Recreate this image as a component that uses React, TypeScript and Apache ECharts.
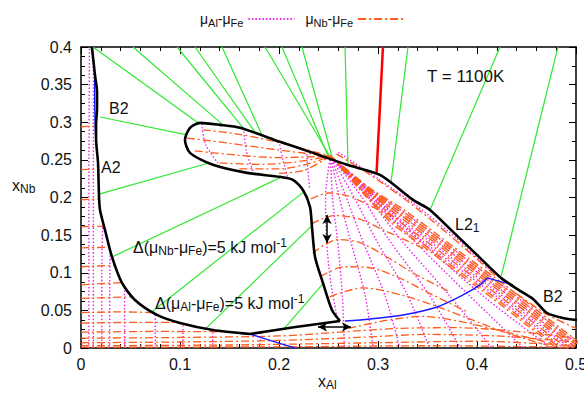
import React, { useEffect, useRef } from 'react';
import * as echarts from 'echarts';

type Pt = [number, number];

const FONT = '"Liberation Sans", Arial, Helvetica, sans-serif';

const AL = 'μAl-μFe';
const NB = 'μNb-μFe';

const xRange: Pt = [0, 0.5];
const yRange: Pt = [0, 0.4];
const xStep = 0.1;
const yStep = 0.05;

// ---- phase boundaries (black) ----
const boundaryA2: Pt[] = [
  [0.011, 0.4], [0.0141, 0.363], [0.0162, 0.34], [0.0162, 0.318], [0.0152, 0.297], [0.0152, 0.278],
  [0.0172, 0.246], [0.0182, 0.201], [0.0192, 0.1835], [0.0242, 0.157], [0.0313, 0.121], [0.0414, 0.0864],
  [0.0545, 0.0638], [0.0768, 0.0439], [0.1, 0.0332], [0.1333, 0.0239], [0.1707, 0.0186],
];
const boundaryBottom: Pt[] = [[0.1707, 0.0186], [0.215, 0.0275], [0.2616, 0.0359]];
const boundaryL21: Pt[] = [
  [0.2616, 0.0359], [0.2535, 0.0505], [0.2444, 0.0864], [0.2364, 0.121], [0.2333, 0.161], [0.2313, 0.1875],
  [0.2242, 0.21], [0.2141, 0.2234], [0.201, 0.2274], [0.1677, 0.2327], [0.1333, 0.2434], [0.1101, 0.2593],
  [0.105, 0.2766], [0.1101, 0.2926], [0.1202, 0.2992], [0.1404, 0.2965], [0.1606, 0.2926], [0.201, 0.274],
  [0.2343, 0.2593], [0.2687, 0.2434], [0.302, 0.23], [0.3354, 0.1968], [0.3525, 0.1835], [0.3758, 0.1543],
  [0.4, 0.1237], [0.4232, 0.0944], [0.4404, 0.0785], [0.4566, 0.0652], [0.4707, 0.0465], [0.4869, 0.0399],
  [0.501, 0.0372],
];

// ---- ordering boundaries (blue) ----
const blueLines: Pt[][] = [
  [[0.0138, 0.357], [0.0139, 0.32], [0.0146, 0.284]],
  [[0.1707, 0.0186], [0.195, 0.0085], [0.216, 0.0]],
  [[0.2667, 0.0359], [0.2919, 0.0386], [0.3253, 0.0439], [0.3596, 0.0545], [0.3859, 0.0705], [0.403, 0.0838], [0.4101, 0.0931]],
  [[0.4101, 0.0931], [0.4364, 0.0838]],
];

// ---- tie lines ----
const redTie: Pt[] = [[0.305, 0.4], [0.2985, 0.231]];
const greenTies: Pt[][] = [
  [[0.0121, 0.4], [0.1182, 0.2992]],
  [[0.0525, 0.4], [0.1434, 0.2965]],
  [[0.097, 0.4], [0.165, 0.2905]],
  [[0.1152, 0.4], [0.176, 0.2862]],
  [[0.1424, 0.4], [0.183, 0.2826]],
  [[0.1859, 0.4], [0.2515, 0.2545]],
  [[0.203, 0.4], [0.2495, 0.2555]],
  [[0.2232, 0.4], [0.2535, 0.2545]],
  [[0.2667, 0.4], [0.2697, 0.243]],
  [[0.3303, 0.4], [0.3131, 0.2195]],
  [[0.4232, 0.4], [0.3525, 0.1835]],
  [[0.4818, 0.4], [0.4245, 0.096]],
  [[0.0192, 0.307], [0.1071, 0.2832]],
  [[0.0192, 0.2048], [0.1283, 0.2455]],
  [[0.0313, 0.121], [0.203, 0.2275]],
  [[0.072, 0.0485], [0.226, 0.2085]],
  [[0.125, 0.0245], [0.2335, 0.163]],
  [[0.205, 0.0255], [0.2447, 0.086]],
];

// ---- μAl-μFe isolines (magenta dotted) ----
const alStrip: Pt[][] = [
  [[0.008, 0], [0.008, 0.2], [0.0085, 0.4]],
  [[0.0125, 0], [0.0125, 0.25], [0.0125, 0.38]],
  [[0.021, 0], [0.021, 0.1], [0.022, 0.165]],
  [[0.029, 0], [0.029, 0.08], [0.0295, 0.127]],
  [[0.044, 0], [0.044, 0.05], [0.044, 0.078]],
  [[0.075, 0], [0.075, 0.046]],
  [[0.103, 0], [0.103, 0.032]],
  [[0.133, 0], [0.133, 0.024]],
  [[0.18, 0], [0.182, 0.02]],
];
const alTongue: Pt[][] = [
  [[0.122, 0.298], [0.126, 0.27], [0.14, 0.243]],
  [[0.164, 0.292], [0.167, 0.262], [0.174, 0.234]],
  [[0.2, 0.275], [0.204, 0.25], [0.209, 0.226]],
  [[0.228, 0.262], [0.229, 0.24], [0.231, 0.212]],
];
const alFan: Pt[][] = [
  [[0.252, 0.255], [0.247, 0.2], [0.248, 0.144], [0.252, 0.09], [0.258, 0.045]],
  [[0.252, 0.255], [0.254, 0.2], [0.259, 0.144], [0.264, 0.07], [0.266, 0.0]],
  [[0.252, 0.255], [0.261, 0.2], [0.272, 0.144], [0.287, 0.07], [0.295, 0.0]],
  [[0.252, 0.255], [0.268, 0.2], [0.284, 0.144], [0.307, 0.07], [0.322, 0.0]],
  [[0.252, 0.255], [0.276, 0.2], [0.298, 0.144], [0.33, 0.07], [0.352, 0.0]],
  [[0.252, 0.255], [0.284, 0.2], [0.311, 0.144], [0.352, 0.07], [0.383, 0.0]],
  [[0.252, 0.255], [0.29, 0.2], [0.323, 0.144], [0.372, 0.07], [0.415, 0.0]],
  [[0.252, 0.255], [0.295, 0.2], [0.335, 0.144], [0.392, 0.07], [0.447, 0.0]],
  [[0.252, 0.255], [0.298, 0.2], [0.345, 0.14], [0.41, 0.065], [0.475, 0.0]],
];
const alBand: Pt[][] = [
  [[0.252, 0.255], [0.2889, 0.2037], [0.3158, 0.1705], [0.3498, 0.1375], [0.3838, 0.1035], [0.4188, 0.0695], [0.4538, 0.0335], [0.4938, -0.0065]],
  [[0.252, 0.255], [0.2902, 0.2058], [0.3183, 0.1747], [0.3523, 0.1417], [0.3863, 0.1077], [0.4213, 0.0737], [0.4563, 0.0377], [0.4963, -0.0023]],
  [[0.252, 0.255], [0.2914, 0.2079], [0.3208, 0.1789], [0.3548, 0.1459], [0.3888, 0.1119], [0.4238, 0.0779], [0.4588, 0.0419], [0.4988, 0.0019]],
  [[0.252, 0.255], [0.2926, 0.2101], [0.3232, 0.1831], [0.3572, 0.1501], [0.3912, 0.1161], [0.4262, 0.0821], [0.4612, 0.0461], [0.5012, 0.0061]],
  [[0.26, 0.26], [0.3, 0.225], [0.34, 0.188], [0.38, 0.145], [0.41, 0.108], [0.435, 0.082]],
];

// ---- μNb-μFe isolines (orange dash-dot) ----
const nbStrip: Pt[][] = [
  [[0, 0.294], [0.015, 0.295]],
  [[0, 0.237], [0.0175, 0.238]],
  [[0, 0.197], [0.0185, 0.198]],
  [[0, 0.161], [0.0235, 0.162]],
  [[0, 0.133], [0.029, 0.134]],
  [[0, 0.108], [0.0355, 0.11]],
  [[0, 0.084], [0.043, 0.087]],
  [[0, 0.066], [0.053, 0.068]],
  [[0, 0.047], [0.04, 0.048], [0.074, 0.047]],
  [[0, 0.033], [0.05, 0.034], [0.098, 0.034]],
  [[0, 0.021], [0.08, 0.022], [0.15, 0.0215]],
];
const nbBottom: Pt[][] = [
  [[0, 0.013], [0.1, 0.014], [0.2, 0.016], [0.26, 0.021], [0.32, 0.026], [0.38, 0.027], [0.44, 0.022], [0.5, 0.013]],
  [[0, 0.007], [0.1, 0.008], [0.2, 0.01], [0.28, 0.014], [0.35, 0.018], [0.42, 0.016], [0.5, 0.008]],
  [[0, 0.003], [0.15, 0.004], [0.3, 0.007], [0.4, 0.009], [0.5, 0.003]],
  [[0, 0.0012], [0.2, 0.0015], [0.35, 0.003], [0.5, 0.001]],
  [[0.27, 0.026], [0.31, 0.037], [0.345, 0.042], [0.38, 0.036], [0.42, 0.024], [0.47, 0.008]],
];
const nbArcs: Pt[][] = [
  [[0.232, 0.198], [0.25, 0.206], [0.27, 0.202], [0.3, 0.184], [0.322, 0.17]],
  [[0.233, 0.165], [0.255, 0.176], [0.28, 0.172], [0.31, 0.154], [0.35, 0.13]],
  [[0.234, 0.126], [0.259, 0.144], [0.282, 0.14], [0.309, 0.121], [0.335, 0.1], [0.372, 0.075]],
  [[0.242, 0.095], [0.266, 0.108], [0.29, 0.107], [0.32, 0.094], [0.35, 0.074], [0.39, 0.048]],
  [[0.251, 0.068], [0.285, 0.08], [0.325, 0.07], [0.36, 0.055], [0.39, 0.04], [0.43, 0.02], [0.47, 0.004]],
];
const nbTongue: Pt[][] = [
  [[0.107, 0.279], [0.15, 0.272], [0.2, 0.263], [0.252, 0.255]],
  [[0.123, 0.29], [0.16, 0.284], [0.2, 0.273], [0.252, 0.255]],
  [[0.115, 0.262], [0.16, 0.256], [0.2, 0.253], [0.252, 0.255]],
  [[0.14, 0.246], [0.18, 0.244], [0.215, 0.247], [0.252, 0.255]],
  [[0.16, 0.238], [0.2, 0.238], [0.23, 0.245], [0.252, 0.255]],
  [[0.2, 0.232], [0.225, 0.236], [0.252, 0.255]],
];
const nbBand: Pt[][] = [
  [[0.252, 0.255], [0.2877, 0.2016], [0.3134, 0.1663], [0.3474, 0.1333], [0.3814, 0.0993], [0.4164, 0.0653], [0.4514, 0.0293], [0.4914, -0.0107]],
  [[0.252, 0.255], [0.2883, 0.2027], [0.3146, 0.1684], [0.3486, 0.1354], [0.3826, 0.1014], [0.4176, 0.0674], [0.4526, 0.0314], [0.4926, -0.0086]],
  [[0.252, 0.255], [0.2895, 0.2048], [0.3171, 0.1726], [0.3511, 0.1396], [0.3851, 0.1056], [0.4201, 0.0716], [0.4551, 0.0356], [0.4951, -0.0044]],
  [[0.252, 0.255], [0.2908, 0.2069], [0.3195, 0.1768], [0.3535, 0.1438], [0.3875, 0.1098], [0.4225, 0.0758], [0.4575, 0.0398], [0.4975, -0.0002]],
  [[0.252, 0.255], [0.2914, 0.2079], [0.3208, 0.1789], [0.3548, 0.1459], [0.3888, 0.1119], [0.4238, 0.0779], [0.4588, 0.0419], [0.4988, 0.0019]],
  [[0.252, 0.255], [0.292, 0.209], [0.322, 0.181], [0.356, 0.148], [0.39, 0.114], [0.425, 0.08], [0.46, 0.044], [0.5, 0.004]],
  [[0.252, 0.255], [0.2926, 0.2101], [0.3232, 0.1831], [0.3572, 0.1501], [0.3912, 0.1161], [0.4262, 0.0821], [0.4612, 0.0461], [0.5012, 0.0061]],
  [[0.252, 0.255], [0.2932, 0.2111], [0.3245, 0.1852], [0.3585, 0.1522], [0.3925, 0.1182], [0.4275, 0.0842], [0.4625, 0.0482], [0.5025, 0.0082]],
  [[0.258, 0.258], [0.29, 0.232], [0.33, 0.195], [0.365, 0.158], [0.395, 0.124], [0.42, 0.094]],
  [[0.44, 0.072], [0.47, 0.045], [0.5, 0.026]],
];

// ---- double arrows ----
const arrowV: Pt[] = [[0.2485, 0.1769], [0.2485, 0.1396]];
const arrowH: Pt[] = [[0.2394, 0.028], [0.2727, 0.028]];

const MAGENTA = '#ee22ee';
const ORANGE = '#ff5a1a';
const GREEN = '#2fe82f';
const BLUE = '#1a1aff';
const DOTTED = [1.5, 2];
const DASHDOT = [8, 3, 2, 3];

const mk = (name: string, data: Pt[], color: string, width: number, type: any, smooth: number | boolean, z = 2) => ({
  type: 'line',
  name,
  data,
  symbol: 'none',
  showSymbol: false,
  smooth,
  silent: true,
  z,
  clip: true,
  lineStyle: { color, width, type },
  emphasis: { disabled: true },
});

const rich = {
  m: { fontSize: 16, lineHeight: 20, fontFamily: FONT, color: '#111' },
  t: { fontSize: 17, lineHeight: 20, fontFamily: FONT, color: '#111' },
  s: { fontSize: 12, lineHeight: 9, verticalAlign: 'bottom', fontFamily: FONT, color: '#111' },
  p: { fontSize: 12, lineHeight: 9, verticalAlign: 'top', fontFamily: FONT, color: '#111' },
};

const txt = (left: number, top: number, text: string) => ({
  type: 'text',
  left,
  top,
  z: 100,
  silent: true,
  style: { text, rich, fill: '#111', font: `16px ${FONT}` },
});

export default function App() {
  const ref = useRef<HTMLDivElement>(null);

  useEffect(() => {
    document.body.style.margin = '0';
    if (!ref.current) return;
    const chart = echarts.init(ref.current, null, { renderer: 'svg' });

    const series: any[] = [];
    alStrip.forEach((d) => series.push(mk(AL, d, MAGENTA, 1.4, DOTTED, 0.3)));
    alTongue.forEach((d) => series.push(mk(AL, d, MAGENTA, 1.4, DOTTED, 0.3)));
    alFan.forEach((d) => series.push(mk(AL, d, MAGENTA, 1.4, DOTTED, 0.3)));
    alBand.forEach((d) => series.push(mk(AL, d, MAGENTA, 1.4, DOTTED, 0.2)));
    nbStrip.forEach((d) => series.push(mk(NB, d, ORANGE, 1.3, DASHDOT, 0.3)));
    nbBottom.forEach((d) => series.push(mk(NB, d, ORANGE, 1.3, DASHDOT, 0.3)));
    nbArcs.forEach((d) => series.push(mk(NB, d, ORANGE, 1.3, DASHDOT, 0.3)));
    nbTongue.forEach((d) => series.push(mk(NB, d, ORANGE, 1.3, DASHDOT, 0.3)));
    nbBand.forEach((d) => series.push(mk(NB, d, ORANGE, 1.4, DASHDOT, 0.2)));
    greenTies.forEach((d) => series.push(mk('tie', d, GREEN, 1.2, 'solid', false, 3)));
    series.push(mk('tie3', redTie, '#ff0000', 2.5, 'solid', false, 3));
    blueLines.forEach((d) => series.push(mk('order', d, BLUE, 1.4, 'solid', 0.3, 4)));
    series.push(mk('boundary', boundaryA2, '#000', 2.6, 'solid', 0.25, 5));
    series.push(mk('boundary', boundaryBottom, '#000', 2.6, 'solid', 0.2, 5));
    series.push(mk('boundary', boundaryL21, '#000', 2.6, 'solid', 0.25, 5));
    series.push({
      type: 'line',
      name: 'arrows',
      data: [...arrowV, ...arrowH],
      symbol: 'none',
      silent: true,
      lineStyle: { opacity: 0 },
      z: 6,
      markLine: {
        silent: true,
        animation: false,
        symbol: ['arrow', 'arrow'],
        symbolSize: [7, 9],
        lineStyle: { color: '#000', width: 1.5, type: 'solid' },
        label: { show: false },
        emphasis: { disabled: true },
        data: [
          [{ coord: arrowV[0] }, { coord: arrowV[1] }],
          [{ coord: arrowH[0] }, { coord: arrowH[1] }],
        ],
      },
    });

    const axisCommon = {
      type: 'value',
      axisLine: { show: true, onZero: false, lineStyle: { color: '#000', width: 1.5 } },
      axisTick: { show: true, inside: true, length: 7, lineStyle: { color: '#000', width: 1 } },
      minorTick: { show: true, length: 4, lineStyle: { color: '#000', width: 1 } },
      splitLine: { show: false },
      minorSplitLine: { show: false },
    };

    const option: any = {
      animation: false,
      grid: { left: 81, right: 8, top: 47, bottom: 56, containLabel: false, outerBoundsMode: 'none' },
      legend: {
        data: [AL, NB],
        left: 195,
        top: 7,
        align: 'right',
        itemWidth: 46,
        itemHeight: 8,
        itemGap: 10,
        selectedMode: false,
        itemStyle: { opacity: 0, borderWidth: 0 },
        formatter: (n: string) =>
          n === AL ? '{m|μ}{s|Al}{m|-μ}{s|Fe}' : '{m|μ}{s|Nb}{m|-μ}{s|Fe}',
        textStyle: {
          rich: {
            m: { fontSize: 14, lineHeight: 18, fontFamily: FONT, color: '#111' },
            s: { fontSize: 11, lineHeight: 8, verticalAlign: 'bottom', fontFamily: FONT, color: '#111' },
          },
        },
      },
      xAxis: [
        {
          ...axisCommon,
          position: 'bottom',
          min: xRange[0],
          max: xRange[1],
          interval: xStep,
          minorTick: { ...axisCommon.minorTick, splitNumber: 5 },
          axisLabel: { color: '#111', fontSize: 16, fontFamily: FONT, margin: 8 },
        },
        {
          ...axisCommon,
          position: 'top',
          min: xRange[0],
          max: xRange[1],
          interval: xStep,
          minorTick: { ...axisCommon.minorTick, splitNumber: 5 },
          axisLabel: { show: false },
        },
      ],
      yAxis: [
        {
          ...axisCommon,
          position: 'left',
          min: yRange[0],
          max: yRange[1],
          interval: yStep,
          minorTick: { ...axisCommon.minorTick, splitNumber: 4 },
          axisLabel: { color: '#111', fontSize: 16, fontFamily: FONT, margin: 9 },
        },
        {
          ...axisCommon,
          position: 'right',
          min: yRange[0],
          max: yRange[1],
          interval: yStep,
          minorTick: { ...axisCommon.minorTick, splitNumber: 2 },
          axisLabel: { show: false },
        },
      ],
      series,
      graphic: [
        txt(109, 100, '{m|B2}'),
        txt(101, 159, '{m|A2}'),
        txt(427, 68, '{t|T = 1100K}'),
        txt(455, 216, '{m|L2}{s|1}'),
        txt(543, 288, '{m|B2}'),
        txt(133, 237, '{m|Δ(μ}{s|Nb}{m|-μ}{s|Fe}{m|)=5 kJ mol}{p|-1}'),
        txt(155, 293, '{m|Δ(μ}{s|Al}{m|-μ}{s|Fe}{m|)=5 kJ mol}{p|-1}'),
        txt(318, 373, '{m|x}{s|Al}'),
        txt(12, 177, '{m|x}{s|Nb}'),
      ],
    };

    chart.setOption(option);
    return () => chart.dispose();
  }, []);

  return <div ref={ref} style={{ width: 584, height: 404 }} />;
}
